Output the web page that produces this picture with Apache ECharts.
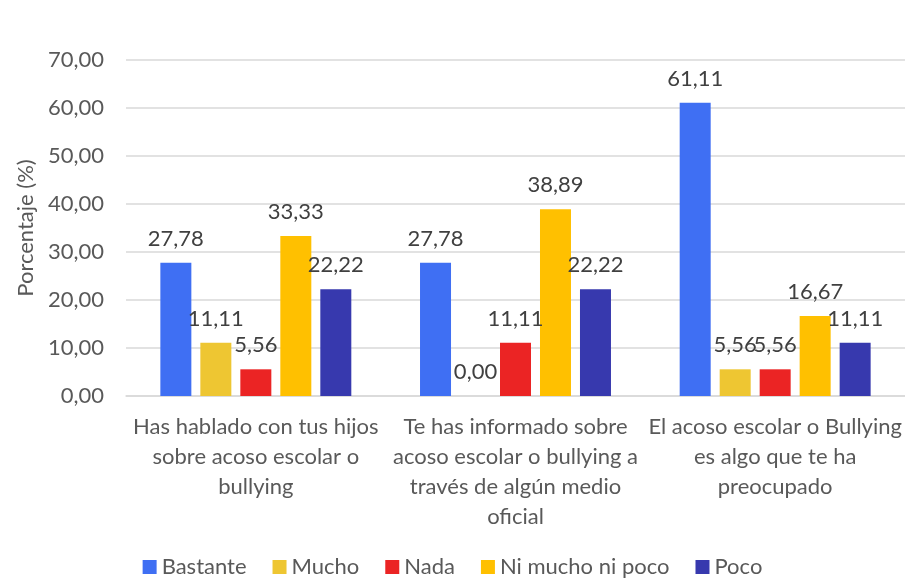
<!DOCTYPE html>
<html><head><meta charset="utf-8">
<script src="https://cdn.jsdelivr.net/npm/echarts@6/dist/echarts.min.js"></script>
<style>html,body{margin:0;padding:0;background:#fff}#c{width:905px;height:580px}</style>
</head><body><div id="c"></div>
<script>
const categories = [
  "Has hablado con tus hijos\nsobre acoso escolar o\nbullying",
  "Te has informado sobre\nacoso escolar o bullying a\ntravés de algún medio\noficial",
  "El acoso escolar o Bullying\nes algo que te ha\npreocupado"
];
const seriesNames = ["Bastante", "Mucho", "Nada", "Ni mucho ni poco", "Poco"];
const bastante = [27.78, 27.78, 61.11];
const mucho = [11.11, 0.00, 5.56];
const nada = [5.56, 11.11, 5.56];
const niMuchoNiPoco = [33.33, 38.89, 16.67];
const poco = [22.22, 22.22, 11.11];
const colors = ["#3F6FF3", "#EEC632", "#EB2424", "#FFC000", "#3739AE"];
const values = [bastante, mucho, nada, niMuchoNiPoco, poco];
const FONT = "Lato";
const FS = 22;
const fmt = v => v.toFixed(2).replace('.', ',');

const chart = echarts.init(document.getElementById('c'), null, {renderer: 'canvas'});
chart.setOption({
  animation: false,
  textStyle: {fontFamily: FONT},
  grid: {left: 126, right: 0, top: 60, bottom: 184, containLabel: false},
  legend: {
    bottom: -3, left: 'center', icon: 'rect', itemWidth: 14, itemHeight: 14, itemGap: 26,
    textStyle: {fontFamily: FONT, fontSize: FS, color: '#595959'},
    data: seriesNames
  },
  xAxis: {
    type: 'category', data: categories,
    axisLine: {lineStyle: {color: '#d9d9d9', width: 1.5}},
    axisTick: {show: false},
    axisLabel: {fontFamily: FONT, fontSize: FS, color: '#595959', lineHeight: 30, margin: 16, interval: 0}
  },
  yAxis: {
    type: 'value', min: 0, max: 70, interval: 10,
    name: 'Porcentaje (%)', nameLocation: 'middle', nameGap: 88, nameRotate: 90,
    nameTextStyle: {fontFamily: FONT, fontSize: FS, color: '#595959'},
    axisLine: {show: false}, axisTick: {show: false},
    splitLine: {lineStyle: {color: '#d9d9d9', width: 1.5}},
    axisLabel: {fontFamily: FONT, fontSize: FS, color: '#595959', margin: 22, formatter: v => fmt(v)}
  },
  series: seriesNames.map((n, i) => ({
    name: n, type: 'bar', data: values[i], barWidth: 31, barGap: '29%',
    itemStyle: {color: colors[i]},
    label: {show: true, position: 'top', distance: 13, fontFamily: FONT, fontSize: FS, color: '#404040',
      formatter: p => fmt(p.value)}
  }))
});
</script></body></html>
